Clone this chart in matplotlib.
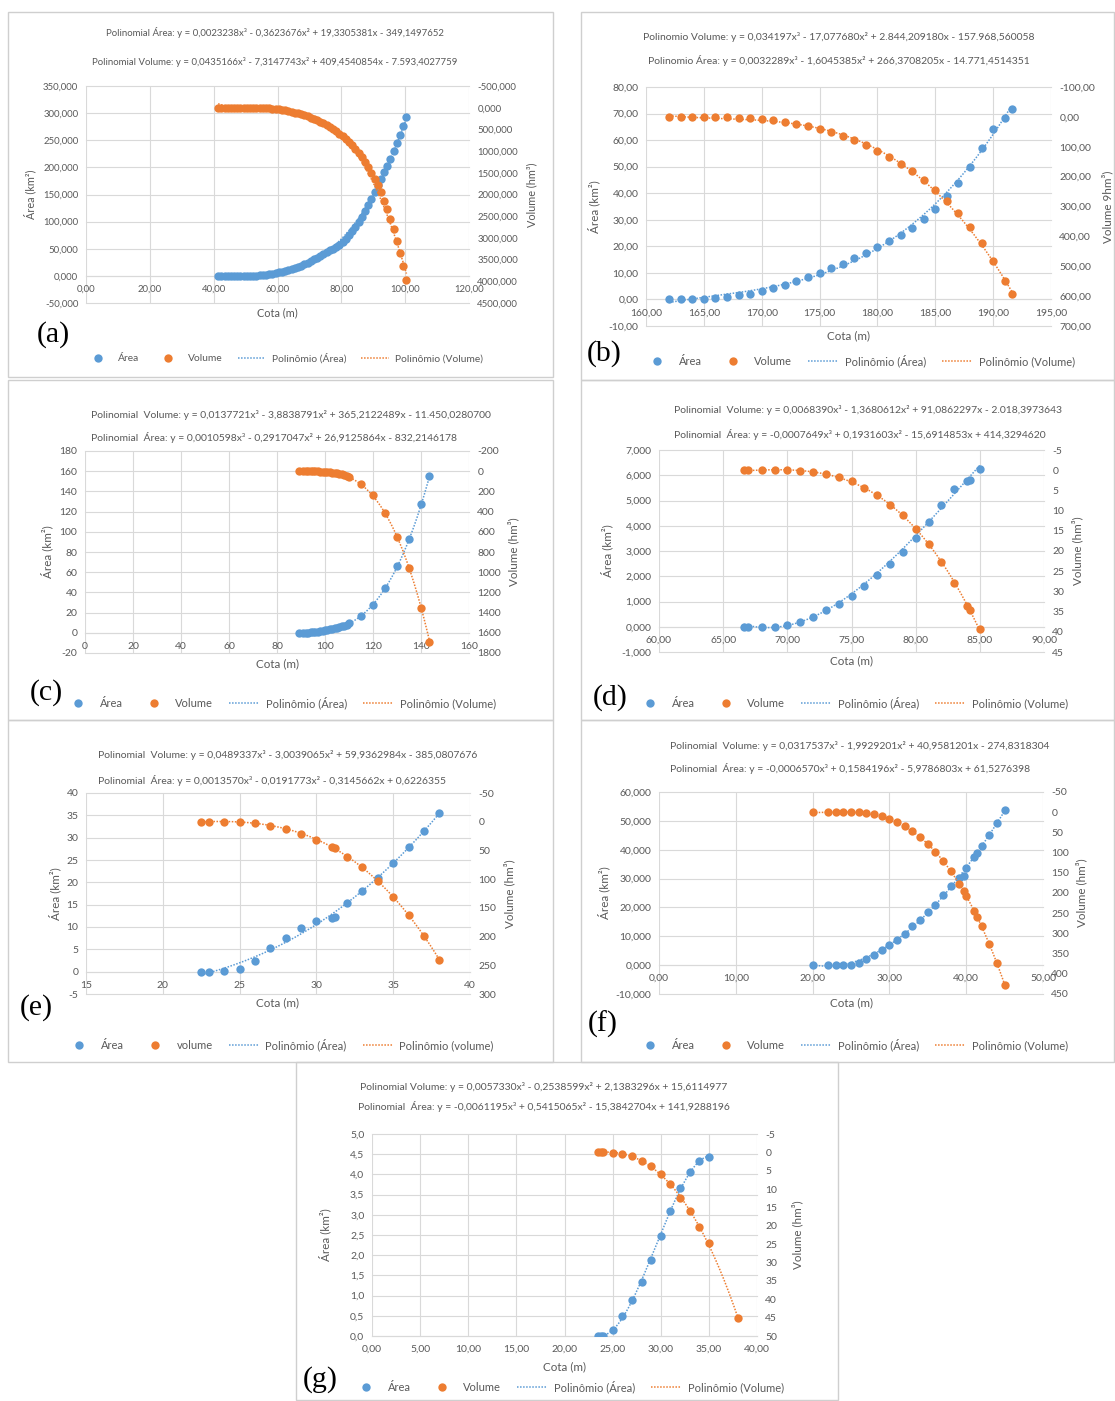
import numpy as np
import matplotlib
matplotlib.use("Agg")
import matplotlib.pyplot as plt
from matplotlib.lines import Line2D
from matplotlib.patches import Rectangle
from matplotlib.ticker import FuncFormatter

W, H = 1115, 1401
BLUE, ORANGE = "#5B9BD5", "#ED7D31"
INK, GRID, FRAME = "#595959", "#D9D9D9", "#CFCFCF"
SANS = ["Lato", "DejaVu Sans"]
SERIF = ["Liberation Serif", "DejaVu Serif"]
plt.rcParams["font.family"] = SANS
MS = 6.0

# ---------------- (a) ----------------
a_cota = [41.4, 42.4, 43.4, 44.4, 45.4, 46.4, 47.4, 48.4, 49.4, 50.4,
          51.4, 52.4, 53.4, 54.4, 55.4, 56.4, 57.4, 58.4, 59.4, 60.4,
          61.4, 62.4, 63.4, 64.4, 65.4, 66.4, 67.4, 68.4, 69.4, 70.4,
          71.4, 72.4, 73.4, 74.4, 75.4, 76.4, 77.4, 78.4, 79.4, 80.4,
          81.4, 82.4, 83.4, 84.4, 85.4, 86.4, 87.4, 88.4, 89.4, 90.4,
          91.4, 92.4, 93.4, 94.4, 95.4, 96.4, 97.4, 98.4, 99.4, 100.4]
a_area = [0, 0, 0, 0, 0, 0, 0, 0, 0, 0.1,
          0.2, 0.4, 0.6, 1.0, 1.5, 2.2, 3.0, 4.0, 5.0, 6.6,
          8.0, 9.6, 11.2, 12.9, 14.7, 16.8, 19.1, 21.6, 24.4, 27.4,
          30.4, 33.5, 36.6, 40.0, 43.4, 46.8, 50.4, 54.1, 57.8, 62.4,
          68.5, 75.0, 82.2, 90.0, 98.5, 108, 119, 130, 142, 155,
          167, 179, 191, 203, 216, 230, 245, 260, 276, 293]
a_volume = [0, 0, 0, 0, 0, 0, 0, 0, 0, 0,
            0.5, 1, 2, 3, 5, 8, 13, 20, 28, 38,
            49, 62, 77, 94, 112, 132, 153, 176, 201, 228,
            257, 289, 324, 362, 403, 447, 494, 545, 600, 660,
            724, 793, 868, 950, 1040, 1140, 1250, 1370, 1500, 1640,
            1790, 1950, 2140, 2340, 2560, 2800, 3060, 3340, 3640, 3960]
a_coef_area = [0.0023238, -0.3623676, 19.3305381, -349.1497652]
a_coef_volume = [0.0435166, -7.3147743, 409.4540854, -7593.4027759]

# ---------------- (b) ----------------
b_cota = [162, 163, 164, 165, 166, 167, 168, 169, 170, 171, 172, 173, 174, 175, 176,
          177, 178, 179, 180, 181, 182, 183, 184, 185, 186, 187, 188, 189, 190, 191, 191.6]
b_area = [0.0, 0.0, 0.0, 0.1, 0.6, 1.0, 1.5, 2.1, 3.0, 4.3, 5.4, 6.9, 8.4, 9.9, 11.7,
          13.4, 15.6, 17.5, 19.6, 21.9, 24.1, 27.0, 30.4, 34.2, 38.8, 43.9, 49.7, 56.9, 64.2, 68.4, 71.8]
b_volume = [0, 0, 0, 0.5, 1, 1.5, 3, 5, 7, 11, 17, 23, 31, 39, 51,
            64, 78, 95, 113, 133, 158, 182, 211, 245, 282, 321, 368, 421, 482, 550, 592]
b_coef_area = [0.0032289, -1.6045385, 266.3708205, -14771.4514351]
b_coef_volume = [0.034197, -17.07768, 2844.20918, -157968.560058]

# ---------------- (c) ----------------
c_cota = [89, 91, 92, 93, 94, 95, 96, 97, 98, 99, 100, 101, 102, 103, 104,
          105, 106, 107, 108, 109, 110, 115, 120, 125, 130, 135, 140, 143.5]
c_area = [0, 0, 0.1, 0.2, 0.4, 0.6, 0.9, 1.2, 1.6, 2.0, 2.5, 3.0, 3.5, 4.1, 4.6,
          5.2, 5.8, 6.4, 7.0, 7.6, 9.3, 16.7, 28.0, 44.0, 65.7, 93.0, 127.7, 155.0]
c_volume = [0, 0, 0, 0.2, 0.5, 1, 1.7, 2.5, 3.5, 4.6, 6, 8, 10.5, 13.5, 17,
            21, 26, 32, 38, 46, 57, 127, 240, 413, 647, 957, 1357, 1690]
c_coef_area = [0.0010598, -0.2917047, 26.9125864, -832.2146178]
c_coef_volume = [0.0137721, -3.8838791, 365.2122489, -11450.02807]

# ---------------- (d) ----------------
d_cota = [66.6, 66.9, 68, 69, 70, 71, 72, 73, 74, 75, 76, 77, 78, 79, 80, 81, 82, 83, 84, 84.2, 85]
d_area = [0, 0, 0, 0, 0.05, 0.17, 0.37, 0.65, 0.91, 1.2, 1.62, 2.05, 2.48, 2.98, 3.52,
          4.16, 4.83, 5.46, 5.76, 5.83, 6.26]
d_volume = [0, 0, 0, 0, 0, 0.2, 0.4, 1.0, 1.8, 2.7, 4.5, 6.2, 8.5, 11.2, 14.5,
            18.2, 22.8, 28.0, 33.6, 34.7, 39.2]
d_coef_area = [-0.0007649, 0.1931603, -15.6914853, 414.329462]
d_coef_volume = [0.006839, -1.3680612, 91.0862297, -2018.3973643]

# ---------------- (e) ----------------
e_cota = [22.5, 23, 24, 25, 26, 27, 28, 29, 30, 31, 31.2, 32, 33, 34, 35, 36, 37, 38]
e_area = [0, 0, 0.07, 0.67, 2.5, 5.3, 7.5, 9.7, 11.45, 12.0, 12.2, 15.4, 18.1, 21.0, 24.3, 27.8, 31.4, 35.5]
e_volume = [0, 0, 0, 0, 1.4, 6.7, 12.4, 21.7, 32, 44.8, 46, 61, 79.5, 104, 131.6, 163, 198.8, 240]
e_coef_area = [0.001357, -0.0191773, -0.3145662, 0.6226355]
e_coef_volume = [0.0489337, -3.0039065, 59.9362984, -385.0807676]

# ---------------- (f) ----------------
f_cota = [20, 22, 23, 24, 25, 26, 27, 28, 29, 30, 31, 32, 33, 34, 35, 36, 37, 38, 39, 39.7,
          40, 41, 41.4, 42, 43, 44, 45]
f_area = [0, 0, 0, 0, 0.2, 0.9, 2.1, 3.6, 5.1, 7.0, 8.8, 10.9, 13.4, 15.7, 18.3, 21.0, 24.2,
          27.4, 30.1, 31.0, 33.8, 37.4, 38.9, 41.3, 45.2, 49.3, 53.7]
f_volume = [0, 0, 0, 0, 0, 0.7, 2.3, 4.8, 9.8, 16.4, 24.8, 33.9, 45.5, 61.3, 78.7, 97.8, 120.3,
            146, 177.6, 195, 206.7, 244, 260.6, 281.4, 326.2, 374.4, 427.6]
f_coef_area = [-0.000657, 0.1584196, -5.9786803, 61.5276398]
f_coef_volume = [0.0317537, -1.9929201, 40.9581201, -274.8318304]

# ---------------- (g) ----------------
g_cota_area = [23.5, 23.75, 24, 25, 26, 27, 28, 29, 30, 31, 32, 33, 34, 35]
g_area = [0, 0, 0, 0.16, 0.5, 0.88, 1.34, 1.89, 2.47, 3.09, 3.67, 4.07, 4.32, 4.43]
g_cota_volume = [23.5, 23.75, 24, 25, 26, 27, 28, 29, 30, 31, 32, 33, 34, 35, 38]
g_volume = [0, 0, 0, 0.1, 0.4, 0.9, 2.3, 3.8, 6.0, 8.7, 12.3, 16.1, 20.4, 24.7, 45.2]
g_coef_area = [-0.0061195, 0.5415065, -15.3842704, 141.9288196]
g_coef_volume = [0.005733, -0.2538599, 2.1383296, 15.6114977]


def fx(px):
    return px / W


def fy(py):
    return 1 - py / H


def br_number(v, nd):
    s = f"{abs(v):,.{nd}f}"
    return s.replace(",", "#").replace(".", ",").replace("#", ".")


def equation(coefs, nd):
    powers = ["x³", "x²", "x", ""]
    out = "y = " + ("-" if coefs[0] < 0 else "") + br_number(coefs[0], nd) + powers[0]
    for c, p in zip(coefs[1:], powers[1:]):
        out += (" - " if c < 0 else " + ") + br_number(c, nd) + p
    return out


def tick_fmt(nd):
    def f(v, pos):
        if abs(v) < 1e-9:
            v = 0.0
        return f"{v:.{nd}f}".replace(".", ",")
    return FuncFormatter(f)


def ticks(lo, hi, step):
    return np.arange(lo, hi + step / 2, step)


PANELS = [
    dict(tag="(a)", box=(8, 12, 553, 377), plot=(86, 86, 469, 303),
         xa=a_cota, area=a_area, xv=a_cota, vol=a_volume, ca=a_coef_area, cv=a_coef_volume, nda=7, ndv=7,
         xlim=(0, 120), xstep=20, xdec=2, ylim=(-50, 350), ystep=50, ydec=3,
         vlim=(-500, 4500), vstep=500, vdec=3,
         titles=[("Polinomial Área: ", "a"), ("Polinomial Volume: ", "v")], title_y=(33, 62),
         title_x=275, title_ha="center", tag_xy=(37, 335), legend_xy=(84, 358),
         xlabel_y=313, ylabel_x=30, vlabel_x=532, vlabel="Volume (hm³)", vname="Volume", fs=6.9),
    dict(tag="(b)", box=(581, 12, 1114, 380), plot=(646, 87, 1051, 326),
         xa=b_cota, area=b_area, xv=b_cota, vol=b_volume, ca=b_coef_area, cv=b_coef_volume, nda=7, ndv=6,
         xlim=(160, 195), xstep=5, xdec=2, ylim=(-10, 80), ystep=10, ydec=2,
         vlim=(-100, 700), vstep=100, vdec=2,
         titles=[("Polinomio Volume: ", "v"), ("Polinomio Área: ", "a")], title_y=(37, 60),
         title_x=839, title_ha="center", tag_xy=(587, 354), legend_xy=(642, 361),
         xlabel_y=336, ylabel_x=594, vlabel_x=1107, vlabel="Volume 9hm³)", vname="Volume", fs=7.5),
    dict(tag="(c)", box=(8, 380, 553, 720), plot=(85, 451, 469, 653),
         xa=c_cota, area=c_area, xv=c_cota, vol=c_volume, ca=c_coef_area, cv=c_coef_volume, nda=7, ndv=7,
         xlim=(0, 160), xstep=20, xdec=0, ylim=(-20, 180), ystep=20, ydec=0,
         vlim=(-200, 1800), vstep=200, vdec=0,
         titles=[("Polinomial  Volume: ", "v"), ("Polinomial  Área: ", "a")], title_y=(415, 438),
         title_x=91, title_ha="left", tag_xy=(30, 693), legend_xy=(63, 703),
         xlabel_y=664, ylabel_x=47, vlabel_x=513, vlabel="Volume (hm³)", vname="Volume", fs=7.5),
    dict(tag="(d)", box=(581, 380, 1114, 720), plot=(659, 450, 1044, 652),
         xa=d_cota, area=d_area, xv=d_cota, vol=d_volume, ca=d_coef_area, cv=d_coef_volume, nda=7, ndv=7,
         xlim=(60, 90), xstep=5, xdec=2, ylim=(-1, 7), ystep=1, ydec=3,
         vlim=(-5, 45), vstep=5, vdec=0,
         titles=[("Polinomial  Volume: ", "v"), ("Polinomial  Área: ", "a")], title_y=(410, 434),
         title_x=674, title_ha="left", tag_xy=(593, 698), legend_xy=(635, 703),
         xlabel_y=661, ylabel_x=607, vlabel_x=1077, vlabel="Volume (hm³)", vname="Volume", fs=7.5),
    dict(tag="(e)", box=(8, 720, 553, 1062), plot=(86, 793, 470, 994),
         xa=e_cota, area=e_area, xv=e_cota, vol=e_volume, ca=e_coef_area, cv=e_coef_volume, nda=7, ndv=7,
         xlim=(15, 40), xstep=5, xdec=0, ylim=(-5, 40), ystep=5, ydec=0,
         vlim=(-50, 300), vstep=50, vdec=0,
         titles=[("Polinomial  Volume: ", "v"), ("Polinomial  Área: ", "a")], title_y=(755, 780),
         title_x=98, title_ha="left", tag_xy=(20, 1008), legend_xy=(64, 1045),
         xlabel_y=1003, ylabel_x=55, vlabel_x=509, vlabel="Volume (hm³)", vname="volume", fs=7.5),
    dict(tag="(f)", box=(581, 720, 1114, 1062), plot=(659, 792, 1043, 994),
         xa=f_cota, area=f_area, xv=f_cota, vol=f_volume, ca=f_coef_area, cv=f_coef_volume, nda=7, ndv=7,
         xlim=(0, 50), xstep=10, xdec=2, ylim=(-10, 60), ystep=10, ydec=3,
         vlim=(-50, 450), vstep=50, vdec=0,
         titles=[("Polinomial  Volume: ", "v"), ("Polinomial  Área: ", "a")], title_y=(746, 768),
         title_x=670, title_ha="left", tag_xy=(588, 1024), legend_xy=(635, 1045),
         xlabel_y=1003, ylabel_x=604, vlabel_x=1081, vlabel="Volume (hm³)", vname="Volume", fs=7.5),
    dict(tag="(g)", box=(296, 1062, 838, 1400), plot=(372, 1134, 757, 1336),
         xa=g_cota_area, area=g_area, xv=g_cota_volume, vol=g_volume, ca=g_coef_area, cv=g_coef_volume,
         nda=7, ndv=7,
         xlim=(0, 40), xstep=5, xdec=2, ylim=(0, 5), ystep=0.5, ydec=1,
         vlim=(-5, 50), vstep=5, vdec=0,
         titles=[("Polinomial Volume: ", "v"), ("Polinomial  Área: ", "a")], title_y=(1087, 1107),
         title_x=544, title_ha="center", tag_xy=(303, 1380), legend_xy=(351, 1387),
         xlabel_y=1367, ylabel_x=325, vlabel_x=797, vlabel="Volume (hm³)", vname="Volume", fs=7.5),
]


def draw_panel(fig, p):
    fs = p["fs"]
    bx0, by0, bx1, by1 = p["box"]
    fig.add_artist(Rectangle((fx(bx0), fy(by1)), (bx1 - bx0) / W, (by1 - by0) / H,
                             transform=fig.transFigure, fill=False, ec=FRAME, lw=1.0))
    l, t, r, b = p["plot"]
    ax = fig.add_axes([fx(l), fy(b), (r - l) / W, (b - t) / H])
    ax2 = ax.twinx()

    # area series and its cubic trendline
    ax.plot(p["xa"], p["area"], "o", color=BLUE, ms=MS, mew=0, zorder=3)
    xs = np.linspace(min(p["xa"]), max(p["xa"]), 300)
    ax.plot(xs, np.polyval(p["ca"], xs), color=BLUE, ls=(0, (1, 1)), lw=1.1, zorder=4)

    # volume series (secondary, reversed axis) and its trendline
    ax2.plot(p["xv"], p["vol"], "o", color=ORANGE, ms=MS, mew=0, zorder=3)
    xs = np.linspace(min(p["xv"]), max(p["xv"]), 300)
    ax2.plot(xs, np.polyval(p["cv"], xs), color=ORANGE, ls=(0, (1, 1)), lw=1.1, zorder=4)

    ax.set_xlim(*p["xlim"])
    ax.set_ylim(*p["ylim"])
    ax2.set_ylim(p["vlim"][1], p["vlim"][0])
    ax.set_xticks(ticks(p["xlim"][0], p["xlim"][1], p["xstep"]))
    ax.set_yticks(ticks(p["ylim"][0], p["ylim"][1], p["ystep"]))
    ax2.set_yticks(ticks(p["vlim"][0], p["vlim"][1], p["vstep"]))
    ax.xaxis.set_major_formatter(tick_fmt(p["xdec"]))
    ax.yaxis.set_major_formatter(tick_fmt(p["ydec"]))
    ax2.yaxis.set_major_formatter(tick_fmt(p["vdec"]))

    ax.grid(True, color=GRID, lw=0.8)
    ax.set_axisbelow(True)
    for gl in ax.get_xgridlines() + ax.get_ygridlines():
        gl.set_clip_on(False)
    for side in ("top", "left", "right"):
        ax.spines[side].set_visible(False)
    ax.spines["bottom"].set_position(("data", 0))
    ax.spines["bottom"].set_color(GRID)
    ax.spines["bottom"].set_linewidth(0.8)
    for s in ax2.spines.values():
        s.set_visible(False)

    ax.tick_params(axis="x", length=0, labelsize=fs, labelcolor=INK, pad=6.5)
    ax.tick_params(axis="y", length=0, labelsize=fs, labelcolor=INK, pad=5.5)
    ax2.tick_params(axis="y", length=0, labelsize=fs, labelcolor=INK, pad=6)

    # equation captions
    texts = {"a": equation(p["ca"], p["nda"]), "v": equation(p["cv"], p["ndv"])}
    for (prefix, key), ty in zip(p["titles"], p["title_y"]):
        fig.text(fx(p["title_x"]), fy(ty), prefix + texts[key], ha=p["title_ha"], va="center",
                 fontsize=fs, color=INK)

    fig.text(fx((l + r) / 2), fy(p["xlabel_y"]), "Cota (m)", ha="center", va="center",
             fontsize=fs + 0.9, color=INK)
    fig.text(fx(p["ylabel_x"]), fy((t + b) / 2), "Área (km²)", rotation=90, ha="center",
             va="center", fontsize=fs + 0.9, color=INK)
    fig.text(fx(p["vlabel_x"]), fy((t + b) / 2), p["vlabel"], rotation=90, ha="center",
             va="center", fontsize=fs + 0.9, color=INK)

    fig.text(fx(p["tag_xy"][0]), fy(p["tag_xy"][1]), p["tag"], family=SERIF, fontsize=21.5,
             ha="left", va="center", color="black")

    handles = [
        Line2D([], [], ls="none", marker="o", color=BLUE, ms=MS, mew=0),
        Line2D([], [], ls="none", marker="o", color=ORANGE, ms=MS, mew=0),
        Line2D([], [], color=BLUE, ls=(0, (1, 1)), lw=1.1),
        Line2D([], [], color=ORANGE, ls=(0, (1, 1)), lw=1.1),
    ]
    vname = p["vname"]
    labels = ["Área", vname, "Polinômio (Área)", f"Polinômio ({vname})"]
    fig.legend(handles, labels, loc="center left",
               bbox_to_anchor=(fx(p["legend_xy"][0]), fy(p["legend_xy"][1])),
               bbox_transform=fig.transFigure, ncol=4, frameon=False, fontsize=fs + 0.5,
               handlelength=2.7, handletextpad=0.6, columnspacing=1.45, borderpad=0,
               borderaxespad=0, labelcolor=INK)


fig = plt.figure(figsize=(W / 100, H / 100), dpi=100)
fig.patch.set_facecolor("white")
for panel in PANELS:
    draw_panel(fig, panel)

fig.savefig("out.png", dpi=100, facecolor="white")
